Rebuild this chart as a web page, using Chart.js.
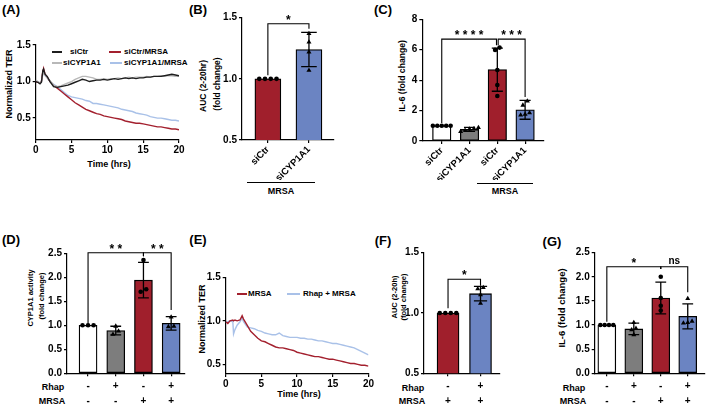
<!DOCTYPE html>
<html>
<head>
<meta charset="utf-8">
<script src="https://cdn.jsdelivr.net/npm/chart.js@4.4.1/dist/chart.umd.min.js"></script>
<style>
  body { margin: 0; width: 709px; height: 407px; background: #fff; position: relative; overflow: hidden;
         font-family: "Liberation Sans", Arial, sans-serif; font-weight: bold; color: #000; }
  canvas { position: absolute; }
  .t { position: absolute; white-space: nowrap; line-height: 1; font-size: 9px; }
  .c { transform: translate(-50%, -50%); }
  .r { transform: translate(-50%, -50%) rotate(-90deg); }
  .l { transform: translateY(-50%); font-size: 8px; }
  .sw { position: absolute; height: 1.5px; }
  .grp { position: absolute; height: 1px; background: #000; }
  .pl { font-size: 13px; }
</style>
</head>
<body>
<!-- panel letters -->
<div class="t c pl" style="left:11px;top:9px">(A)</div>
<div class="t c pl" style="left:198px;top:9px">(B)</div>
<div class="t c pl" style="left:383px;top:9px">(C)</div>
<div class="t c pl" style="left:11px;top:239px">(D)</div>
<div class="t c pl" style="left:198px;top:239px">(E)</div>
<div class="t c pl" style="left:383px;top:240px">(F)</div>
<div class="t c pl" style="left:552px;top:241px">(G)</div>

<!-- axis titles -->
<div class="t r" style="left:9px;top:84px">Normalized TER</div>
<div class="t c" style="left:109px;top:164px">Time (hrs)</div>
<div class="t r" style="left:203px;top:86px;font-size:8.5px">AUC (2-20hr)</div>
<div class="t r" style="left:217px;top:84px;font-size:8.5px">(fold change)</div>
<div class="t r" style="left:402px;top:76px;font-size:8.6px">IL-6 (fold change)</div>
<div class="t r" style="left:31px;top:298px;font-size:7.5px">CYP1A1 activity</div>
<div class="t r" style="left:42px;top:296px;font-size:7.5px">(fold change)</div>
<div class="t r" style="left:202px;top:319px">Normalized TER</div>
<div class="t c" style="left:299px;top:394px">Time (hrs)</div>
<div class="t r" style="left:395px;top:297px;font-size:7.5px">AUC (2-20h)</div>
<div class="t r" style="left:404px;top:297px;font-size:7.5px">(fold change)</div>
<div class="t r" style="left:562px;top:308px;font-size:9.5px">IL-6 (fold change)</div>

<!-- legend (A) -->
<div class="sw" style="left:52px;top:51px;width:10px;background:#1e1e1e"></div>
<div class="t l" style="left:70px;top:52px">siCtr</div>
<div class="sw" style="left:109px;top:51px;width:12px;background:#a3202e"></div>
<div class="t l" style="left:124px;top:52px">siCtr/MRSA</div>
<div class="sw" style="left:52px;top:62px;width:10px;background:#b8b8b8"></div>
<div class="t l" style="left:63px;top:63px">siCYP1A1</div>
<div class="sw" style="left:110px;top:62px;width:12px;background:#a9c1e8"></div>
<div class="t l" style="left:124px;top:63px">siCYP1A1/MRSA</div>

<!-- legend (E) -->
<div class="sw" style="left:237px;top:293px;width:10px;background:#a3202e"></div>
<div class="t l" style="left:248px;top:294px">MRSA</div>
<div class="sw" style="left:287px;top:293px;width:13px;background:#a9c1e8"></div>
<div class="t l" style="left:303px;top:294px">Rhap + MRSA</div>

<!-- MRSA groupings under (B) and (C) -->
<div class="grp" style="left:247px;top:182px;width:68px"></div>
<div class="t c" style="left:281px;top:191px">MRSA</div>
<div class="grp" style="left:477px;top:183px;width:56px"></div>
<div class="t c" style="left:505px;top:191px">MRSA</div>

<!-- treatment row labels -->
<div class="t c" style="left:53px;top:387px">Rhap</div>
<div class="t c" style="left:52px;top:401px">MRSA</div>
<div class="t c" style="left:413px;top:388px">Rhap</div>
<div class="t c" style="left:412px;top:401px">MRSA</div>
<div class="t c" style="left:574px;top:388px">Rhap</div>
<div class="t c" style="left:573px;top:401px">MRSA</div>

<script>
// (A) normalized TER after siRNA, hrs
const timeA = [0, 0.3, 0.6, 0.8, 1, 1.1, 1.3, 1.6, 2, 2.5, 3, 3.5, 4, 4.5, 5, 5.5, 6, 6.5, 7, 7.5, 8, 8.5, 9, 9.5,
  10, 10.5, 11, 11.5, 12, 12.5, 13, 13.5, 14, 14.5, 15, 15.5, 16, 16.5, 17, 17.5, 18, 18.5, 19, 19.5, 20];
const terSiCtr = [1.00, 0.99, 0.97, 0.99, 1.15, 1.17, 1.10, 1.07, 1.00, 0.93, 0.92, 0.93, 0.94, 0.95, 0.97, 0.99,
  1.01, 1.03, 1.02, 1.00, 1.01, 1.02, 1.02, 1.03, 1.02, 1.03, 1.04, 1.03, 1.04, 1.05, 1.04, 1.05, 1.04, 1.05, 1.05,
  1.06, 1.06, 1.07, 1.07, 1.07, 1.08, 1.09, 1.10, 1.09, 1.08];
const terSiCyp = [1.02, 1.00, 0.98, 1.00, 1.10, 1.13, 1.09, 1.05, 1.01, 0.95, 0.93, 0.94, 0.96, 0.98, 1.00, 1.03,
  1.05, 1.07, 1.07, 1.06, 1.05, 1.03, 1.03, 1.04, 1.03, 1.04, 1.04, 1.05, 1.04, 1.05, 1.06, 1.05, 1.06, 1.06, 1.06,
  1.07, 1.06, 1.07, 1.07, 1.08, 1.08, 1.08, 1.08, 1.07, 1.07];
const terSiCtrMrsa = [1.00, 0.99, 0.98, 1.00, 1.14, 1.18, 1.10, 1.06, 1.00, 0.95, 0.91, 0.87, 0.83, 0.79, 0.75, 0.71,
  0.68, 0.65, 0.62, 0.60, 0.58, 0.56, 0.55, 0.53, 0.52, 0.51, 0.50, 0.49, 0.48, 0.46, 0.45, 0.44, 0.43, 0.43, 0.42,
  0.41, 0.40, 0.39, 0.38, 0.38, 0.37, 0.36, 0.35, 0.35, 0.34];
const terSiCypMrsa = [1.01, 1.00, 0.98, 1.00, 1.12, 1.15, 1.08, 1.05, 1.00, 0.96, 0.93, 0.89, 0.85, 0.81, 0.79, 0.78,
  0.77, 0.76, 0.74, 0.73, 0.70, 0.70, 0.69, 0.68, 0.67, 0.66, 0.65, 0.64, 0.62, 0.61, 0.60, 0.59, 0.57, 0.56, 0.55,
  0.54, 0.52, 0.51, 0.50, 0.50, 0.49, 0.48, 0.47, 0.47, 0.46];

// (B) AUC 2-20hr
const aucLabels = ['siCtr', 'siCYP1A1'];
const aucMean = [1.0, 1.24];
const aucSd = [0, 0.14];
const aucPoints = [[1, 1, 1, 1], [1.37, 1.30, 1.22, 1.07]];

// (C) IL-6
const il6Labels = ['siCtr', 'siCYP1A1', 'siCtr', 'siCYP1A1'];
const il6Mean = [1.0, 0.76, 4.69, 2.05];
const il6Sd = [0, 0.13, 1.42, 0.62];
const il6Points = [[1, 1, 1, 1, 1], [0.88, 0.82, 0.78, 0.70, 0.62], [6.14, 5.99, 4.67, 3.68, 2.96], [2.62, 2.35, 1.85, 1.75, 1.70]];

// (D) CYP1A1 activity
const rhapD = ['-', '+', '-', '+'];
const mrsaD = ['-', '-', '+', '+'];
const cypMean = [1.0, 0.89, 1.94, 1.04];
const cypSd = [0, 0.09, 0.37, 0.14];
const cypPoints = [[1, 1, 1], [0.98, 0.88, 0.81], [2.36, 1.75, 1.70], [1.17, 0.98, 0.97]];

// (E) normalized TER, rhapontigenin
const timeE = [0, 0.3, 0.6, 1, 1.1, 1.3, 1.6, 2, 2.3, 2.5, 3, 3.5, 4, 4.5, 5, 5.5, 6, 6.5, 7, 7.5, 8, 8.5, 9, 9.5,
  10, 10.5, 11, 11.5, 12, 12.5, 13, 13.5, 14, 14.5, 15, 15.5, 16, 16.5, 17, 17.5, 18, 18.5, 19, 19.5, 20];
const terMrsa = [0.99, 0.97, 1.00, 1.01, 1.00, 1.01, 1.00, 1.01, 1.06, 1.02, 0.95, 0.88, 0.84, 0.80, 0.77, 0.76,
  0.74, 0.72, 0.70, 0.69, 0.69, 0.68, 0.67, 0.66, 0.64, 0.63, 0.62, 0.61, 0.60, 0.59, 0.59, 0.58, 0.57, 0.56, 0.56,
  0.55, 0.54, 0.53, 0.52, 0.51, 0.51, 0.50, 0.49, 0.49, 0.48];
const terRhapMrsa = [0.98, 0.99, 1.00, 0.99, 0.85, 0.90, 0.95, 0.99, 1.03, 0.99, 0.93, 0.92, 0.91, 0.89, 0.88, 0.86,
  0.85, 0.84, 0.84, 0.86, 0.83, 0.82, 0.81, 0.81, 0.81, 0.80, 0.80, 0.79, 0.79, 0.78, 0.77, 0.77, 0.76, 0.75, 0.74,
  0.74, 0.73, 0.72, 0.71, 0.70, 0.69, 0.67, 0.65, 0.63, 0.61];

// (F) AUC 2-20h
const rhapF = ['-', '+'];
const mrsaF = ['+', '+'];
const aucRhapMean = [1.0, 1.16];
const aucRhapSd = [0, 0.06];
const aucRhapPoints = [[1, 1, 1, 1], [1.21, 1.20, 1.15, 1.08]];

// (G) IL-6
const rhapG = ['-', '+', '-', '+'];
const mrsaG = ['-', '-', '+', '+'];
const il6RhapMean = [1.0, 0.92, 1.56, 1.18];
const il6RhapSd = [0, 0.12, 0.33, 0.26];
const il6RhapPoints = [[1, 1, 1, 1], [1.05, 0.93, 0.90, 0.80], [2.0, 1.56, 1.40, 1.30], [1.55, 1.08, 1.05, 1.04]];

const COL = { white: '#ffffff', gray: '#7d7d7d', red: '#a01f2c', blue: '#6b84c2',
  lBlack: '#1e1e1e', lGray: '#b8b8b8', lRed: '#a3202e', lBlue: '#a9c1e8' };

Chart.defaults.font.family = '"Liberation Sans", Arial, sans-serif';
Chart.defaults.font.weight = 'bold';
Chart.defaults.color = '#000';

// error bars: drawn right after the bars, before the scatter points
Chart.register({
  id: 'errorBars',
  afterDatasetDraw(chart, args, opts) {
    if (args.meta.type !== 'bar' || !opts.sd) return;
    const ctx = chart.ctx, y = chart.scales.y;
    const ds = chart.data.datasets[args.index].data;
    ctx.save();
    ctx.strokeStyle = '#000';
    ctx.lineWidth = 1.3;
    args.meta.data.forEach((bar, i) => {
      const s = opts.sd[i];
      if (!s) return;
      const m = ds[i].y, w = bar.width * 0.3;
      const top = y.getPixelForValue(m + s), bot = y.getPixelForValue(m - s);
      ctx.beginPath();
      ctx.moveTo(bar.x, top); ctx.lineTo(bar.x, bot);
      ctx.moveTo(bar.x - w, top); ctx.lineTo(bar.x + w, top);
      ctx.moveTo(bar.x - w, bot); ctx.lineTo(bar.x + w, bot);
      ctx.stroke();
    });
    ctx.restore();
  }
});

// significance brackets
Chart.register({
  id: 'sig',
  afterDraw(chart, args, opts) {
    if (!opts.items) return;
    const { ctx, scales: { x, y } } = chart;
    ctx.save();
    ctx.strokeStyle = '#000';
    ctx.fillStyle = '#000';
    ctx.lineWidth = 1.1;
    ctx.textAlign = 'center';
    ctx.textBaseline = 'alphabetic';
    opts.items.forEach(b => {
      const x1 = x.getPixelForValue(b.from), x2 = x.getPixelForValue(b.to), yy = y.getPixelForValue(b.at);
      ctx.beginPath();
      ctx.moveTo(x1, y.getPixelForValue(b.legs[0]));
      ctx.lineTo(x1, yy);
      ctx.lineTo(x2, yy);
      ctx.lineTo(x2, y.getPixelForValue(b.legs[1]));
      ctx.stroke();
      const ns = b.text === 'ns';
      ctx.font = 'bold ' + (ns ? 10 : 12) + 'px "Liberation Sans", Arial, sans-serif';
      ctx.fillText(b.text, (x1 + x2) / 2, yy - (ns ? 2.5 : 0));
    });
    ctx.restore();
  }
});

function mount(id, box) {
  const c = document.createElement('canvas');
  c.id = id;
  c.width = box.w;
  c.height = box.h;
  c.style.left = box.left + 'px';
  c.style.top = box.top + 'px';
  c.style.width = box.w + 'px';
  c.style.height = box.h + 'px';
  document.body.appendChild(c);
  return c;
}

// box = canvas on the page, area = wanted plot area on the page
function frame(box, area) {
  return {
    padding: { top: area.t - box.top, right: box.left + box.w - area.r, left: 0, bottom: 0 },
    yw: area.l - box.left,
    xh: box.top + box.h - area.b
  };
}

function yScale(min, max, step, width, fmt) {
  return {
    min, max,
    border: { color: '#000', width: 1.2 },
    grid: { drawOnChartArea: false, color: '#000', lineWidth: 1.2, tickLength: 3 },
    ticks: { stepSize: step, includeBounds: false, padding: 2, font: { size: 10 }, callback: fmt },
    afterFit: s => { s.width = width; }
  };
}

const one = v => v.toFixed(1);

// prism-like scatter: only points that would overlap get pushed sideways
function swarm(groups, th, step) {
  const out = [];
  groups.forEach((g, gi) => {
    const idx = g.map((_, j) => j).sort((a, b) => g[a] - g[b]);
    let cl = [];
    const flush = () => {
      cl.forEach((j, m) => out.push({ x: gi + (m - (cl.length - 1) / 2) * step, y: g[j], g: gi }));
      cl = [];
    };
    idx.forEach((j, k) => {
      if (k > 0 && g[j] - g[idx[k - 1]] >= th) flush();
      cl.push(j);
    });
    flush();
  });
  return out;
}

function linePanel(id, box, area, time, series, yMin) {
  const f = frame(box, area);
  new Chart(mount(id, box), {
    type: 'line',
    data: {
      datasets: series.map(s => ({
        data: time.map((t, i) => ({ x: t, y: s.values[i] })),
        borderColor: s.color, borderWidth: 1.4, pointRadius: 0, tension: 0
      }))
    },
    options: {
      responsive: false, animation: false, devicePixelRatio: 1,
      layout: { padding: f.padding },
      plugins: { legend: { display: false }, tooltip: { enabled: false } },
      scales: {
        x: {
          type: 'linear', min: 0, max: 20,
          border: { color: '#000', width: 1.2 },
          grid: { drawOnChartArea: false, color: '#000', lineWidth: 1.2, tickLength: 3 },
          ticks: { stepSize: 5, padding: 1, font: { size: 10 } },
          afterFit: s => { s.height = f.xh; }
        },
        y: yScale(yMin, 1.5, 0.5, f.yw, one)
      }
    }
  });
}

function barPanel(id, box, area, p) {
  const f = frame(box, area);
  const pts = swarm(p.points, (p.yMax - p.yMin) * 0.035, p.jitter);
  const shapeOf = c => (c.raw ? p.shapes[c.raw.g] : 'circle');
  const xTicks = p.rotate
    ? { autoSkip: false, minRotation: 45, maxRotation: 45, padding: 1, font: { size: 9.5 }, callback: v => p.labels[v] }
    : { autoSkip: false, padding: 3, font: { size: 10, lineHeight: 1.43 }, callback: v => p.labels[v] };
  new Chart(mount(id, box), {
    type: 'bar',
    data: {
      datasets: [
        {
          type: 'scatter', data: pts, order: 0,
          pointStyle: shapeOf,
          pointRadius: c => (shapeOf(c) === 'triangle' ? 2.9 : 2.3),
          backgroundColor: '#000', borderColor: '#000', borderWidth: 0
        },
        {
          data: p.means.map((m, i) => ({ x: i, y: m })), order: 1,
          backgroundColor: p.fills, borderColor: '#000', borderWidth: 1.3,
          borderSkipped: false, barThickness: p.barPx
        }
      ]
    },
    options: {
      responsive: false, animation: false, devicePixelRatio: 1,
      layout: { padding: f.padding },
      plugins: {
        legend: { display: false }, tooltip: { enabled: false },
        errorBars: { sd: p.sd },
        sig: { items: p.brackets }
      },
      scales: {
        x: {
          type: 'linear', min: p.xMin, max: p.xMax, offset: false,
          border: { color: '#000', width: 1.2 },
          grid: { drawOnChartArea: false, offset: false, color: '#000', lineWidth: 1.2, tickLength: 3 },
          afterBuildTicks: s => { s.ticks = p.labels.map((_, i) => ({ value: i })); },
          ticks: xTicks,
          afterFit: s => { s.height = f.xh; }
        },
        y: yScale(p.yMin, p.yMax, p.yStep, f.yw, p.fmt)
      }
    }
  });
}

const rows = (a, b) => a.map((v, i) => [v, b[i]]);

// (A)
linePanel('chartA', { left: 0, top: 30, w: 190, h: 150 }, { l: 35.7, t: 45, r: 179, b: 140 }, timeA, [
  { values: terSiCtr, color: COL.lBlack },
  { values: terSiCyp, color: COL.lGray },
  { values: terSiCtrMrsa, color: COL.lRed },
  { values: terSiCypMrsa, color: COL.lBlue }
], 0.2);

// (B)
barPanel('chartB', { left: 190, top: 0, w: 160, h: 180 }, { l: 242, t: 17.7, r: 333.6, b: 140 }, {
  labels: aucLabels, means: aucMean, sd: aucSd, points: aucPoints,
  fills: [COL.red, COL.blue], shapes: ['circle', 'triangle'],
  xMin: -0.63, xMax: 1.6, yMin: 0.5, yMax: 1.5, yStep: 0.5, fmt: one,
  barPx: 26, jitter: 0.14, rotate: true,
  brackets: [{ from: 0, to: 1, at: 1.45, legs: [1.03, 1.41], text: '*' }]
});

// (C)
barPanel('chartC', { left: 380, top: 0, w: 170, h: 180 }, { l: 422.3, t: 19.3, r: 544, b: 141 }, {
  labels: il6Labels, means: il6Mean, sd: il6Sd, points: il6Points,
  fills: [COL.white, COL.gray, COL.red, COL.blue], shapes: ['circle', 'triangle', 'circle', 'triangle'],
  xMin: -0.7, xMax: 3.68, yMin: 0, yMax: 8, yStep: 2, fmt: v => v,
  barPx: 18.5, jitter: 0.16, rotate: true,
  brackets: [
    { from: 0, to: 1.97, at: 6.7, legs: [1.18, 6.3], text: '* * * *' },
    { from: 2.03, to: 3, at: 6.7, legs: [6.3, 2.9], text: '* * *' }
  ]
});

// (D)
barPanel('chartD', { left: 0, top: 232, w: 190, h: 175 }, { l: 67, t: 253.3, r: 185, b: 373.3 }, {
  labels: rows(rhapD, mrsaD), means: cypMean, sd: cypSd, points: cypPoints,
  fills: [COL.white, COL.gray, COL.red, COL.blue], shapes: ['circle', 'triangle', 'circle', 'triangle'],
  xMin: -0.76, xMax: 3.5, yMin: 0, yMax: 2.5, yStep: 0.5, fmt: one,
  barPx: 18, jitter: 0.2, rotate: false,
  brackets: [
    { from: 0, to: 2, at: 2.51, legs: [1.03, 2.44], text: '* *' },
    { from: 2, to: 3, at: 2.51, legs: [2.44, 1.32], text: '* *' }
  ]
});

// (E)
linePanel('chartE', { left: 190, top: 262, w: 185, h: 145 }, { l: 225.7, t: 277.3, r: 369.3, b: 374 }, timeE, [
  { values: terMrsa, color: COL.lRed },
  { values: terRhapMrsa, color: COL.lBlue }
], 0.39);

// (F)
barPanel('chartF', { left: 375, top: 235, w: 135, h: 172 }, { l: 424, t: 252.7, r: 500, b: 373.3 }, {
  labels: rows(rhapF, mrsaF), means: aucRhapMean, sd: aucRhapSd, points: aucRhapPoints,
  fills: [COL.red, COL.blue], shapes: ['circle', 'triangle'],
  xMin: -0.74, xMax: 1.6, yMin: 0.5, yMax: 1.5, yStep: 0.5, fmt: one,
  barPx: 22, jitter: 0.17, rotate: false,
  brackets: [{ from: 0, to: 1, at: 1.28, legs: [1.04, 1.225], text: '*' }]
});

// (G)
barPanel('chartG', { left: 540, top: 235, w: 169, h: 172 }, { l: 594.7, t: 252.7, r: 706.7, b: 373.3 }, {
  labels: rows(rhapG, mrsaG), means: il6RhapMean, sd: il6RhapSd, points: il6RhapPoints,
  fills: [COL.white, COL.gray, COL.red, COL.blue], shapes: ['circle', 'triangle', 'circle', 'triangle'],
  xMin: -0.45, xMax: 3.64, yMin: 0, yMax: 2.5, yStep: 0.5, fmt: one,
  barPx: 18, jitter: 0.16, rotate: false,
  brackets: [
    { from: 0, to: 2, at: 2.21, legs: [1.07, 2.16], text: '*' },
    { from: 2, to: 3, at: 2.21, legs: [2.16, 1.68], text: 'ns' }
  ]
});
</script>
</body>
</html>
